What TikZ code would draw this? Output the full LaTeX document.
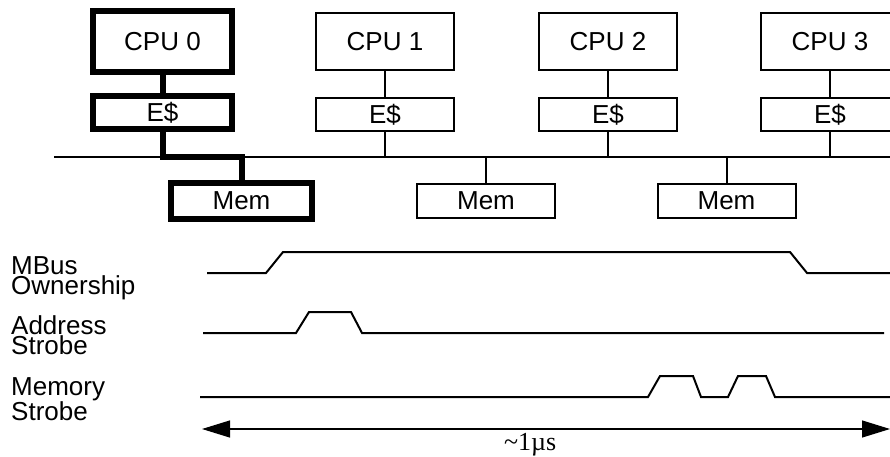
\documentclass[tikz,border=0pt]{standalone}
\usepackage{fontspec}
\setmainfont{Liberation Sans}
\newfontfamily\timefont{Liberation Serif}
\usetikzlibrary{arrows.meta,positioning,calc}

\begin{document}
\begin{tikzpicture}[
    x=1pt, y=-1pt,
    font=\fontsize{26}{20}\selectfont,
    unit/.style={
        draw,
        inner sep=0pt,
        minimum width=138pt,
        line width=2pt
    },
    cpu/.style={unit, minimum height=57pt},
    cache/.style={unit, minimum height=33pt},
    mem/.style={unit, minimum height=34pt},
    owner/.style={line width=6pt},
    link/.style={line width=2pt},
    signal/.style={line width=2pt},
    siglabel/.style={anchor=north west, inner sep=0pt, align=left},
    span/.style={{Triangle[length=28pt,width=17pt]}-{Triangle[length=28pt,width=17pt]}, line width=1.2pt}
]
\useasboundingbox (0,0) rectangle (890,457);
\clip (0,0) rectangle (890,457);

% Processors and their external caches
\node[cpu, owner, minimum width=139pt, minimum height=61pt] (cpu0) at (162.5,41.5) {CPU 0};
\node[cpu] (cpu1) at (385,41.5) {CPU 1};
\node[cpu] (cpu2) at (608,41.5) {CPU 2};
\node[cpu] (cpu3) at (830,41.5) {CPU 3};

\node[cache, owner, minimum width=139pt] (ec0) at (162.5,113) {E\$};
\node[cache] (ec1) at (385,114.5) {E\$};
\node[cache] (ec2) at (608,114.5) {E\$};
\node[cache] (ec3) at (830,114.5) {E\$};

% Memory modules
\node[mem, owner, minimum width=141pt, minimum height=36pt] (mem0) at (241.5,201) {Mem};
\node[mem] (mem1) at (486,201) {Mem};
\node[mem] (mem2) at (726.5,201) {Mem};

% MBus
\coordinate (busL) at (54,157);
\coordinate (busR) at (890,157);
\draw[link] (busL) -- (busR);

\foreach \i in {1,2,3} {
    \draw[link] (cpu\i) -- (ec\i);
    \draw[link] (ec\i.south) -- (ec\i.south |- busL);
}
\foreach \i in {1,2} {
    \draw[link] (mem\i.north) -- (mem\i.north |- busL);
}

% Path owned by CPU 0
\draw[owner] (cpu0) -- (ec0);
\draw[owner] (ec0.south) -- (ec0.south |- busL) -| (mem0.north);

% Signal names
\node[siglabel] (lown) at (11,256) {MBus\\Ownership};
\node[siglabel] (ladr) at (11,315) {Address\\Strobe};
\node[siglabel] (lmem) at (11,377) {Memory\\Strobe};

% Waveforms
\draw[signal] (207,273) -- (266,273) -- (283,252) -- (790,252) -- (807,273) -- (890,273);
\draw[signal] (203,333) -- (296,333) -- (309,312) -- (351,312) -- (362,333) -- (884,333);
\draw[signal] (200,397) -- (648,397) -- (660,376) -- (693,376) -- (701,397)
    -- (728,397) -- (738,376) -- (766,376) -- (775,397) -- (890,397);

% Time span
\coordinate (tL) at (202,429);
\coordinate (tR) at (890,429);
\draw[span] (tL) -- node[pos=0.477, below=4pt, inner sep=0pt, font=\timefont\fontsize{26}{26}\selectfont] (tlabel) {\textasciitilde1µs} (tR);

\end{tikzpicture}
\end{document}
